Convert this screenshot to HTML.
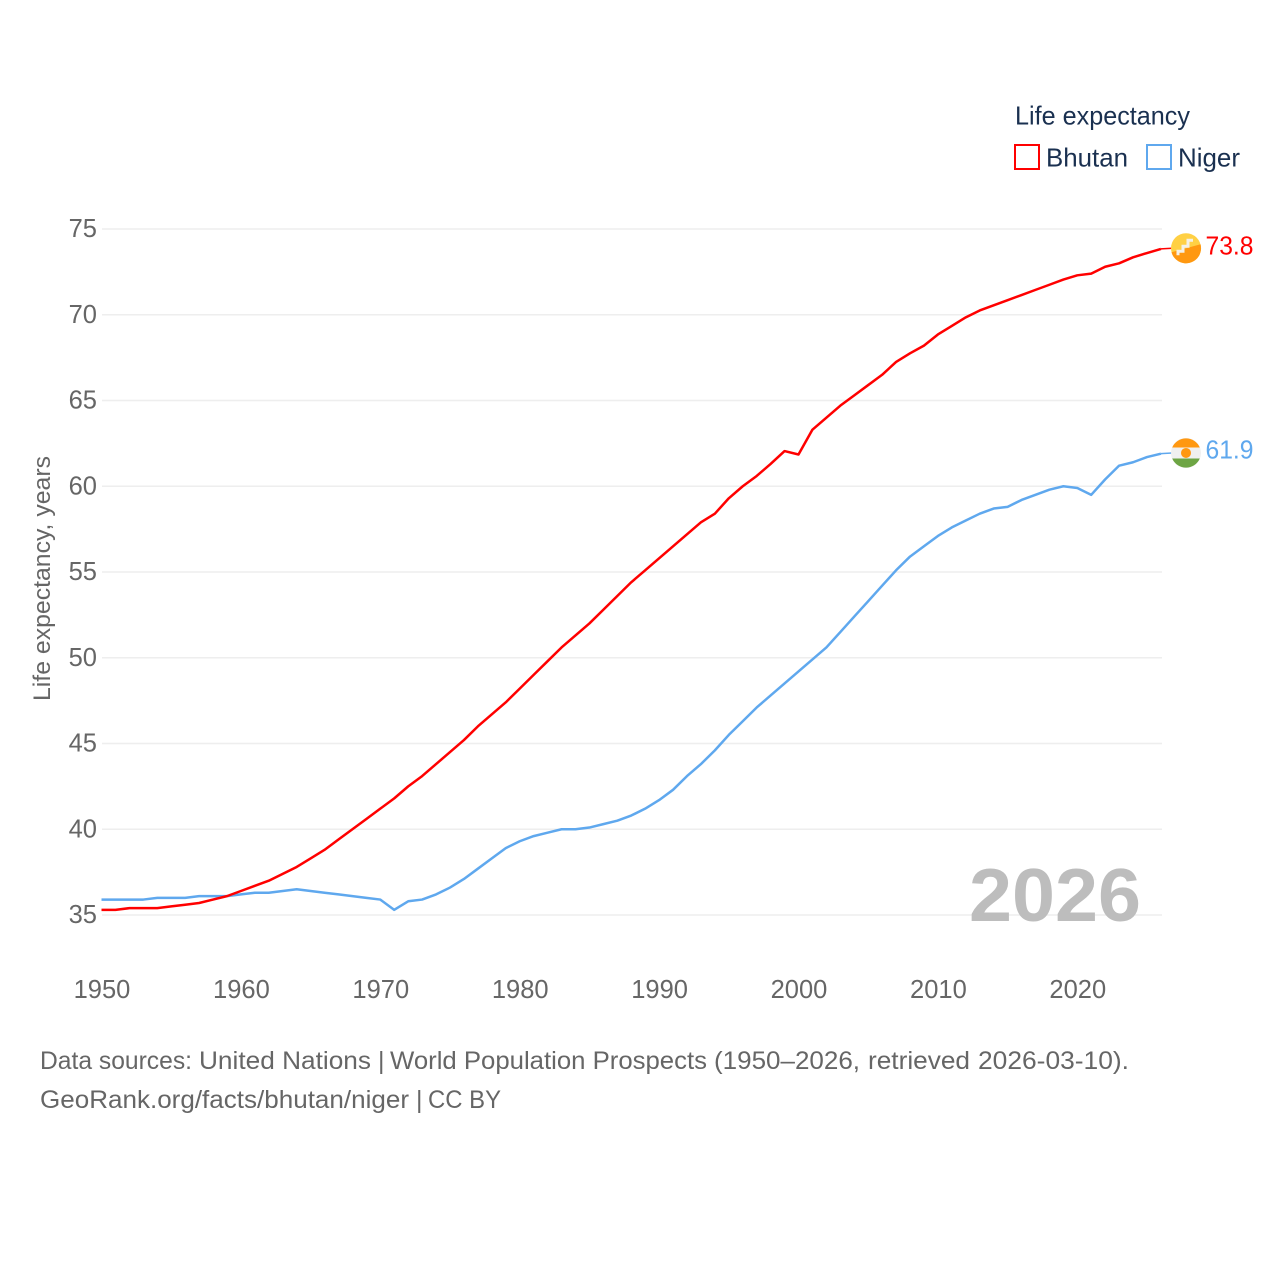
<!DOCTYPE html>
<html lang="en">
<head>
<meta charset="utf-8">
<title>Life expectancy: Bhutan and Niger</title>
<style>
html,body{margin:0;padding:0;background:#fff;}
svg{display:block;font-family:"Liberation Sans",sans-serif;}
</style>
</head>
<body>
<svg id="chart" xmlns="http://www.w3.org/2000/svg" width="1280" height="1280" viewBox="0 0 1280 1280">
  <rect width="1280" height="1280" fill="#fff"/>
  <g id="grid"></g>
  <g id="yticks"></g>
  <g id="xticks"></g>
  <text transform="translate(50,701) rotate(-90)" font-size="24" fill="#666" textLength="245" lengthAdjust="spacingAndGlyphs">Life expectancy, years</text>
  <text x="969" y="921" font-size="75" font-weight="700" fill="#bdbdbd" textLength="172" lengthAdjust="spacingAndGlyphs">2026</text>
  <g id="series"></g>
  <g id="ends"></g>
  <g>
    <text x="1015" y="124.5" font-size="26" fill="#1a3050" textLength="175" lengthAdjust="spacingAndGlyphs">Life expectancy</text>
    <rect x="1015" y="145" width="24" height="24" fill="#fff" stroke="#ff0000" stroke-width="2"/>
    <text x="1046" y="166.5" font-size="26" fill="#1a3050" textLength="82" lengthAdjust="spacingAndGlyphs">Bhutan</text>
    <rect x="1147" y="145" width="24" height="24" fill="#fff" stroke="#5fa8ee" stroke-width="2"/>
    <text x="1178" y="166.5" font-size="26" fill="#1a3050" textLength="62" lengthAdjust="spacingAndGlyphs">Niger</text>
  </g>
  <text y="1069" font-size="25" fill="#666" lengthAdjust="spacingAndGlyphs"><tspan x="40" textLength="152" lengthAdjust="spacingAndGlyphs">Data sources:</tspan> <tspan x="199" textLength="172" lengthAdjust="spacingAndGlyphs">United Nations</tspan> <tspan x="378">|</tspan> <tspan x="390" textLength="317" lengthAdjust="spacingAndGlyphs">World Population Prospects</tspan> <tspan x="714" textLength="146" lengthAdjust="spacingAndGlyphs">(1950–2026,</tspan> <tspan x="868" textLength="102" lengthAdjust="spacingAndGlyphs">retrieved</tspan> <tspan x="978" textLength="151" lengthAdjust="spacingAndGlyphs">2026-03-10).</tspan></text>
  <text y="1108" font-size="25" fill="#666"><tspan x="40" textLength="369" lengthAdjust="spacingAndGlyphs">GeoRank.org/facts/bhutan/niger</tspan> <tspan x="416">|</tspan> <tspan x="428" textLength="73" lengthAdjust="spacingAndGlyphs">CC BY</tspan></text>
</svg>
<script>
const firstYear = 1950;
const bhutanValues = [35.3,35.3,35.4,35.4,35.4,35.5,35.6,35.7,35.9,36.1,36.4,36.7,37.0,37.4,37.8,38.3,38.8,39.4,40.0,40.6,41.2,41.8,42.5,43.1,43.8,44.5,45.2,46.0,46.7,47.4,48.2,49.0,49.8,50.6,51.3,52.0,52.8,53.6,54.4,55.1,55.8,56.5,57.2,57.9,58.4,59.3,60.0,60.6,61.3,62.05,61.85,63.3,64.0,64.7,65.3,65.9,66.5,67.25,67.75,68.2,68.85,69.35,69.85,70.25,70.55,70.85,71.15,71.45,71.75,72.05,72.3,72.4,72.8,73.0,73.35,73.6,73.84];
const nigerValues = [35.9,35.9,35.9,35.9,36.0,36.0,36.0,36.1,36.1,36.1,36.2,36.3,36.3,36.4,36.5,36.4,36.3,36.2,36.1,36.0,35.9,35.3,35.8,35.9,36.2,36.6,37.1,37.7,38.3,38.9,39.3,39.6,39.8,40.0,40.0,40.1,40.3,40.5,40.8,41.2,41.7,42.3,43.1,43.8,44.6,45.5,46.3,47.1,47.8,48.5,49.2,49.9,50.6,51.5,52.4,53.3,54.2,55.1,55.9,56.5,57.1,57.6,58.0,58.4,58.7,58.8,59.2,59.5,59.8,60.0,59.9,59.5,60.4,61.2,61.4,61.7,61.9];
const yTickValues = [35,40,45,50,55,60,65,70,75];
const xTickValues = [1950,1960,1970,1980,1990,2000,2010,2020];

const NS = 'http://www.w3.org/2000/svg';
function xScale(year){ return 101.5 + (year - 1950) * 13.94; }
function yScale(v){ return 915 - (v - 35) * 17.15; }
function make(tag, attrs, parent, txt){
  const el = document.createElementNS(NS, tag);
  for (const k in attrs) el.setAttribute(k, attrs[k]);
  if (txt !== undefined) el.textContent = txt;
  parent.appendChild(el);
  return el;
}
const gridG = document.getElementById('grid');
const yG = document.getElementById('yticks');
const xG = document.getElementById('xticks');
const seriesG = document.getElementById('series');
const endsG = document.getElementById('ends');

yTickValues.forEach(function(v){
  const line = make('line', {x1:102, x2:1162, y1:yScale(v), y2:yScale(v), stroke:'#eeeeee', 'stroke-width':1.6}, gridG);
  
  
  const t = make('text', {x:97, y:yScale(v) + 8, 'text-anchor':'end', 'font-size':25.5, fill:'#666'}, yG, String(v));
  
  
});
xTickValues.forEach(function(v){
  const t = make('text', {x:xScale(v) + 0.5, y:998, 'text-anchor':'middle', 'font-size':25.5, fill:'#666'}, xG, String(v));
  
  
});

function linePoints(values){
  return values.map(function(v, i){ return xScale(firstYear + i).toFixed(2) + ',' + yScale(v).toFixed(2); }).join(' ');
}
const nigerLine = make('polyline', {points:linePoints(nigerValues), fill:'none', stroke:'#5fa8ee', 'stroke-width':2.5, 'stroke-linejoin':'round'}, seriesG);


const bhutanLine = make('polyline', {points:linePoints(bhutanValues), fill:'none', stroke:'#ff0000', 'stroke-width':2.5, 'stroke-linejoin':'round'}, seriesG);



/* series end connectors, flags and value labels */
const endYear = firstYear + bhutanValues.length - 1;
const bhutanEnd = bhutanValues[bhutanValues.length - 1];
const nigerEnd = nigerValues[nigerValues.length - 1];
const xEnd = xScale(endYear);
const yB = yScale(bhutanEnd) - 0.6;
const yN = yScale(nigerEnd) - 0.7;
const flagX = 1186;

const connB = make('line', {x1:xEnd, x2:flagX - 14, y1:yScale(bhutanEnd), y2:yB, stroke:'#ff0000', 'stroke-width':1.5}, endsG);


const connN = make('line', {x1:xEnd, x2:flagX - 14, y1:yScale(nigerEnd), y2:yN, stroke:'#5fa8ee', 'stroke-width':1.5}, endsG);



const flagB = make('g', {transform:'translate(' + flagX + ',' + yB + ')'}, endsG);


make('circle', {r:15, fill:'#ffd044'}, flagB);
make('path', {d:'M-14.5,4 L14.5,-4 A15,15 0 0 1 -14.5,4 Z', fill:'#ff9811'}, flagB);
make('path', {d:'M-8,7 L-8,3 L-3,3 L-3,-2 L2,-2 L2,-8 L7,-8', fill:'none', stroke:'#f5f0e6', 'stroke-width':3}, flagB);

const flagN = make('g', {transform:'translate(' + flagX + ',' + yN + ')'}, endsG);


make('circle', {r:15, fill:'#f0f0f0'}, flagN);
make('path', {d:'M-13.8,-5.5 A15,15 0 0 1 13.8,-5.5 Z', fill:'#ff9811'}, flagN);
make('path', {d:'M-13.8,5.5 A15,15 0 0 0 13.8,5.5 Z', fill:'#6da544'}, flagN);
make('circle', {r:5, fill:'#ff9811'}, flagN);

const labB = make('text', {x:1205.5, y:yB + 6, 'font-size':25.5, fill:'#ff0000', textLength:48, lengthAdjust:'spacingAndGlyphs'}, endsG, bhutanEnd.toFixed(1));


const labN = make('text', {x:1205.5, y:yN + 5.5, 'font-size':25.5, fill:'#5fa8ee', textLength:48, lengthAdjust:'spacingAndGlyphs'}, endsG, nigerEnd.toFixed(1));


</script>
</body>
</html>
